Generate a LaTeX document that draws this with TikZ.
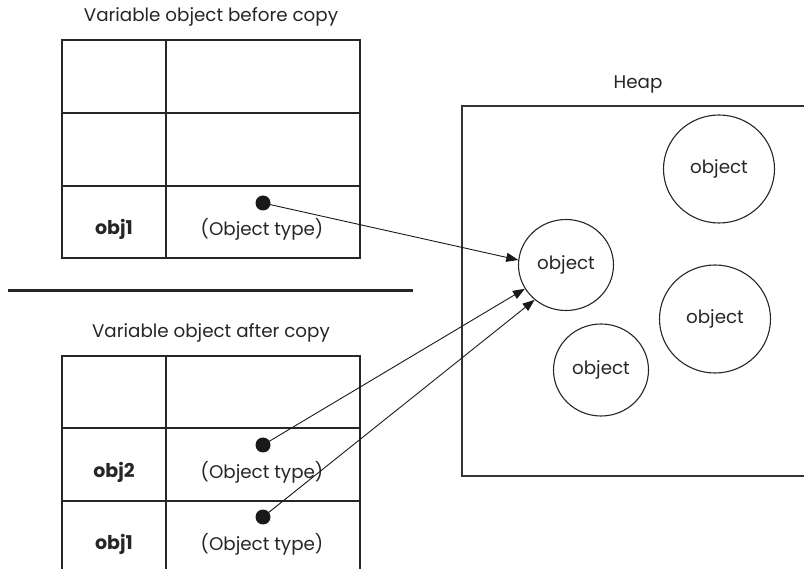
\documentclass[tikz,border=0pt]{standalone}
\usepackage{fontspec}
\setmainfont{Poppins}
\usetikzlibrary{shapes.geometric,arrows.meta}
\begin{document}
\begin{tikzpicture}[x=1pt,y=-1pt,
  grid/.style={line width=1.2pt,draw=black!85},
  lbl/.style={font=\fontsize{18.3}{21}\selectfont,text=black!85,inner sep=0pt},
  bold/.style={font=\fontsize{19}{21}\selectfont\bfseries,text=black!85,inner sep=0pt},
  dot/.style={circle,fill=black!90,minimum size=15pt,inner sep=0pt},
  obj/.style={ellipse,draw=black!85,line width=1.1pt,inner sep=0pt,font=\fontsize{18.3}{21}\selectfont,text=black!85},
  ptr/.style={line width=0.9pt,draw=black!90,-{Triangle[length=12pt,width=9pt]},shorten <=-2pt}
]
\useasboundingbox (0,0) rectangle (804,569);
% top table
\node[lbl] (t1) at (211,17) {Variable object before copy};
\draw[grid] (62,40) rectangle (360,258);
\draw[grid] (62,113) -- (360,113) (62,186) -- (360,186) (166,40) -- (166,258);
\node[bold] (o1a) at (114,229) {obj1};
\node[lbl] (ty1) at (262,229) {(Object type)};
\node[dot] (d1) at (263,203) {};
% separator
\draw[line width=3pt,draw=black!85] (8,291) -- (413,291);
% bottom table
\node[lbl] (t2) at (211,333) {Variable object after copy};
\draw[grid] (62,569) -- (62,356) -- (360,356) -- (360,569);
\draw[grid] (62,428) -- (360,428) (62,501) -- (360,501) (166,356) -- (166,569);
\node[bold] (o2) at (114,472) {obj2};
\node[lbl] (ty2) at (262,472) {(Object type)};
\node[bold] (o1b) at (114,544) {obj1};
\node[lbl] (ty3) at (262,544) {(Object type)};
\node[dot] (d2) at (263,445) {};
\node[dot] (d3) at (263,517) {};
% heap
\node[lbl] (hp) at (638,85) {Heap};
\draw[line width=1.3pt,draw=black!80] (804,106) -- (462,106) -- (462,476) -- (804,476);
\node[obj,minimum width=111pt,minimum height=108pt] (c2) at (719,169) {object};
\node[obj,minimum width=95pt,minimum height=91pt] (c1) at (566,265) {object};
\node[obj,minimum width=111pt,minimum height=108pt] (c3) at (715,319) {object};
\node[obj,minimum width=95pt,minimum height=92pt] (c4) at (601,370) {object};
% pointers
\draw[ptr] (d1.center) -- (c1.174);
\draw[ptr] (d2.center) -- (c1.210);
\draw[ptr] (d3.center) -- (c1.228);
\end{tikzpicture}
\end{document}
